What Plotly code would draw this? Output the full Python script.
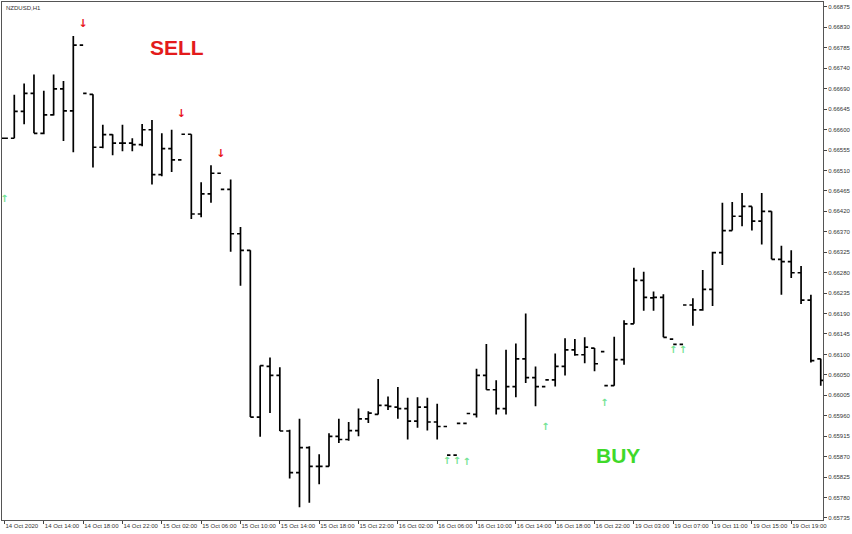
import plotly.graph_objects as go
import numpy as np

# NZDUSD H1 bars (bars with a signal arrow are drawn without a wick)
bar_open = [0.66582, 0.66582, 0.66642, 0.66682, 0.66593, 0.66634, 0.66692, 0.66643, 0.66790, 0.66680,
            0.66562, 0.66590, 0.66571, 0.66571, 0.66568, 0.66601, 0.66501, 0.66559, 0.66534, 0.66591,
            0.66413, 0.66458, 0.66504, 0.66468, 0.66369, 0.66332, 0.65960, 0.66073, 0.66053, 0.65929,
            0.65836, 0.65892, 0.65850, 0.65850, 0.65917, 0.65910, 0.65930, 0.65956, 0.65966, 0.65986,
            0.65982, 0.65979, 0.65951, 0.65982, 0.65949, 0.65939, 0.65875, 0.65946, 0.65966, 0.66053,
            0.66021, 0.65979, 0.66028, 0.66090, 0.66048, 0.66028, 0.66043, 0.66073, 0.66110, 0.66099,
            0.66114, 0.66106, 0.66030, 0.66088, 0.66168, 0.66265, 0.66226, 0.66227, 0.66134, 0.66122,
            0.66210, 0.66199, 0.66245, 0.66327, 0.66376, 0.66408, 0.66430, 0.66397, 0.66419, 0.66312,
            0.66307, 0.66282, 0.66221, 0.66090]
bar_high = [0.66582, 0.66679, 0.66704, 0.66724, 0.66688, 0.66724, 0.66710, 0.66810, 0.66790, 0.66680,
            0.66612, 0.66591, 0.66612, 0.66582, 0.66614, 0.66623, 0.66593, 0.66601, 0.66534, 0.66591,
            0.66484, 0.66522, 0.66504, 0.66490, 0.66384, 0.66332, 0.66075, 0.66093, 0.66071, 0.65932,
            0.65956, 0.65895, 0.65877, 0.65924, 0.65956, 0.65949, 0.65979, 0.65973, 0.66045, 0.66006,
            0.66027, 0.66003, 0.66004, 0.66003, 0.65990, 0.65939, 0.65875, 0.65946, 0.66068, 0.66123,
            0.66042, 0.66110, 0.66124, 0.66191, 0.66073, 0.66028, 0.66102, 0.66136, 0.66134, 0.66138,
            0.66114, 0.66106, 0.66139, 0.66176, 0.66293, 0.66284, 0.66240, 0.66234, 0.66134, 0.66122,
            0.66225, 0.66288, 0.66329, 0.66438, 0.66440, 0.66460, 0.66430, 0.66460, 0.66419, 0.66342,
            0.66332, 0.66297, 0.66233, 0.66090]
bar_low = [0.66582, 0.66582, 0.66613, 0.66593, 0.66591, 0.66633, 0.66576, 0.66551, 0.66790, 0.66517,
           0.66560, 0.66544, 0.66553, 0.66553, 0.66564, 0.66479, 0.66497, 0.66507, 0.66534, 0.66402,
           0.66406, 0.66438, 0.66504, 0.66329, 0.66253, 0.65960, 0.65916, 0.65969, 0.65929, 0.65823,
           0.65759, 0.65769, 0.65810, 0.65850, 0.65902, 0.65907, 0.65917, 0.65947, 0.65966, 0.65976,
           0.65956, 0.65910, 0.65936, 0.65930, 0.65910, 0.65939, 0.65875, 0.65946, 0.65959, 0.66021,
           0.65966, 0.65966, 0.66004, 0.66036, 0.65984, 0.66028, 0.66028, 0.66053, 0.66097, 0.66080,
           0.66062, 0.66106, 0.66030, 0.66077, 0.66168, 0.66197, 0.66197, 0.66138, 0.66134, 0.66122,
           0.66164, 0.66197, 0.66208, 0.66299, 0.66376, 0.66386, 0.66376, 0.66345, 0.66312, 0.66233,
           0.66270, 0.66212, 0.66082, 0.66030]
bar_close = [0.66582, 0.66642, 0.66682, 0.66593, 0.66634, 0.66692, 0.66643, 0.66790, 0.66682, 0.66562,
             0.66590, 0.66571, 0.66571, 0.66568, 0.66601, 0.66501, 0.66559, 0.66534, 0.66591, 0.66413,
             0.66458, 0.66504, 0.66468, 0.66369, 0.66332, 0.65960, 0.66075, 0.66053, 0.65929, 0.65836,
             0.65892, 0.65850, 0.65850, 0.65917, 0.65910, 0.65930, 0.65956, 0.65969, 0.65986, 0.65984,
             0.65979, 0.65951, 0.65982, 0.65949, 0.65939, 0.65875, 0.65946, 0.65968, 0.66053, 0.66021,
             0.65979, 0.66028, 0.66090, 0.66048, 0.66028, 0.66043, 0.66073, 0.66110, 0.66099, 0.66116,
             0.66079, 0.66030, 0.66088, 0.66168, 0.66265, 0.66227, 0.66227, 0.66138, 0.66122, 0.66210,
             0.66199, 0.66245, 0.66327, 0.66376, 0.66408, 0.66430, 0.66397, 0.66419, 0.66312, 0.66307,
             0.66282, 0.66221, 0.66086, 0.66042]

sell_bars = [8, 18, 22]
sell_prices = [0.66837, 0.66635, 0.66546]
buy_bars = [0, 45, 46, 47, 55, 61, 68, 69]
buy_prices = [0.66446, 0.65862, 0.65860, 0.65858, 0.65937, 0.65990, 0.66108, 0.66108]

time_labels = ["14 Oct 2020", "14 Oct 14:00", "14 Oct 18:00", "14 Oct 22:00", "15 Oct 02:00",
               "15 Oct 06:00", "15 Oct 10:00", "15 Oct 14:00", "15 Oct 18:00", "15 Oct 22:00",
               "16 Oct 02:00", "16 Oct 06:00", "16 Oct 10:00", "16 Oct 14:00", "16 Oct 18:00",
               "16 Oct 22:00", "19 Oct 03:00", "19 Oct 07:00", "19 Oct 11:00", "19 Oct 15:00",
               "19 Oct 19:00"]
price_labels = ["0.66875", "0.66830", "0.66785", "0.66740", "0.66690", "0.66645", "0.66600",
                "0.66555", "0.66510", "0.66465", "0.66420", "0.66370", "0.66325", "0.66280",
                "0.66235", "0.66190", "0.66145", "0.66100", "0.66050", "0.66005", "0.65960",
                "0.65915", "0.65870", "0.65825", "0.65780", "0.65735"]

x = list(range(len(bar_open)))
small_font = dict(family="Liberation Sans", size=6, color="#333333")

fig = go.Figure()

fig.add_trace(go.Ohlc(
    x=x, open=bar_open, high=bar_high, low=bar_low, close=bar_close,
    increasing_line_color="black", decreasing_line_color="black",
    line_width=1.7, tickwidth=0.35, hoverinfo="skip", showlegend=False
))

# signal arrows
fig.add_trace(go.Scatter(
    x=sell_bars, y=sell_prices, mode="text", text=["<b>↓</b>"] * len(sell_bars),
    textfont=dict(family="DejaVu Sans", size=11, color="#e8141c"),
    showlegend=False, hoverinfo="skip"
))
fig.add_trace(go.Scatter(
    x=buy_bars, y=buy_prices, mode="text", text=["<b>↑</b>"] * len(buy_bars),
    textfont=dict(family="DejaVu Sans", size=10, color="#74e394"),
    showlegend=False, hoverinfo="skip"
))

fig.add_annotation(x=17.5, y=0.66784, text="<b>SELL</b>", showarrow=False,
                   font=dict(family="Liberation Sans", size=21, color="#e31b1b"))
fig.add_annotation(x=62.4, y=0.65875, text="<b>BUY</b>", showarrow=False,
                   font=dict(family="Liberation Sans", size=21, color="#3fd92a"))
fig.add_annotation(xref="paper", yref="paper", x=0.003, y=0.998, xanchor="left", yanchor="top",
                   text="NZDUSD,H1", showarrow=False, font=small_font)

fig.update_layout(
    width=852, height=534,
    margin=dict(l=1, r=28, t=1, b=14),
    paper_bgcolor="white", plot_bgcolor="white",
    xaxis=dict(
        range=[-0.25, 83.23], rangeslider=dict(visible=False),
        tickvals=list(range(0, 4 * len(time_labels), 4)), ticktext=time_labels,
        ticks="outside", ticklen=3, tickcolor="#444444", tickangle=0,
        ticklabelposition="outside right", ticklabeloverflow="allow", tickfont=small_font,
        showgrid=False, zeroline=False,
        showline=True, linecolor="#555555", linewidth=1, mirror=True
    ),
    yaxis=dict(
        range=[0.657304, 0.66886], side="right",
        tickvals=np.linspace(0.66875, 0.65735, len(price_labels)), ticktext=price_labels,
        ticks="outside", ticklen=3, tickcolor="#444444", tickfont=small_font,
        ticklabeloverflow="allow",
        showgrid=False, zeroline=False,
        showline=True, linecolor="#555555", linewidth=1, mirror=True
    )
)

fig.write_html("out.html", config={"displayModeBar": False},
               post_script="document.body.style.margin='0';")
